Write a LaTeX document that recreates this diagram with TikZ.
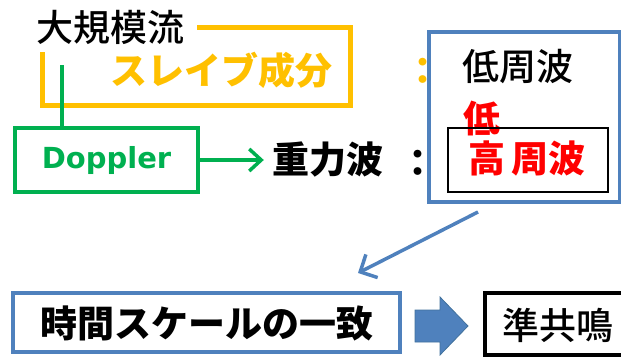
\documentclass[tikz,border=0pt]{standalone}
\usepackage{fontspec}
\setmainfont{Noto Sans CJK JP}
\newfontfamily\jpmed{Noto Sans CJK JP}[UprightFont={* Medium}]
\newfontfamily\dejavu{DejaVu Sans}
\usetikzlibrary{arrows.meta}
\definecolor{orng}{HTML}{FFC000}
\definecolor{grn}{HTML}{00B050}
\definecolor{blu}{HTML}{4F81BD}
\definecolor{bludark}{HTML}{41719C}
\definecolor{rd}{HTML}{FF0000}
\begin{document}
\begin{tikzpicture}[x=1pt,y=-1pt,
  jp/.style={inner sep=0pt, font=\fontsize{37}{40}\selectfont\bfseries},
  jpm/.style={inner sep=0pt, font=\jpmed\fontsize{37}{40}\selectfont},
  boxed/.style={draw, rectangle, inner sep=0pt},
  garrow/.style={grn, line width=3.5pt, -{Straight Barb[length=12pt,width=22pt]}},
  barrow/.style={blu, line width=3.5pt, -{Straight Barb[length=13pt,width=26pt]}},
  blockarrow/.style={fill=blu, draw=bludark, line width=0.8pt}
]
\useasboundingbox (0,0) rectangle (621,359);
% orange bracket around slave component
\draw[orng, line width=5pt] (197,27) -| (350,105) -| (42,52);
\node[jpm] (large) at (110,27) {大規模流};
\node[jp, text=orng] (slave) at (221,70) {スレイブ成分};
\node[jp, text=orng] (ocolon) at (423,71) {：};
% green Doppler
\node[boxed, draw=grn, line width=3.5pt, minimum width=183pt, minimum height=64pt] (dop) at (106.5,160) {};
\node[inner sep=0pt, text=grn, font=\dejavu\fontsize{29}{31}\selectfont\bfseries] (doptext) at (dop.center) {Doppler};
\coordinate (gtop) at (62,65);
\draw[grn, line width=3.5pt] (gtop) -- (gtop |- dop.north);
\node[jp] (grav) at (327.5,160) {重力波};
\node[jp] (bcolon) at (418,163) {：};
\draw[garrow, shorten >=8pt] (dop.east) -- (grav.west);
% blue box
\node[boxed, draw=blu, line width=4.5pt, minimum width=191pt, minimum height=170pt] (bbox) at (524.5,117) {};
\node[jpm] (low) at (518,67) {低周波};
\node[jp, text=rd] (lowred) at (482,118) {低};
\node[boxed, draw=black, line width=2.5pt, minimum width=160pt, minimum height=64pt] (kbox) at (528,160) {};
\node[jp, text=rd] (high) at (527,158) {高\,周波};
% blue arrow
\coordinate (bstart) at (478,212);
\coordinate (bend) at (358,273);
\draw[barrow] (bstart) -- (bend);
% bottom row
\node[boxed, draw=blu, line width=4.5pt, minimum width=387pt, minimum height=59pt] (tsb) at (206.5,322.5) {};
\node[jp] (tsbtext) at (207,323) {時間スケールの一致};
\draw[blockarrow] (415,310) -- (440,310) -- (440,297) -- (468,326) -- (440,355) -- (440,342) -- (415,342) -- cycle;
\node[boxed, draw=black, line width=4.5pt, minimum width=138pt, minimum height=62pt] (res) at (554,324) {};
\node[jpm] (restext) at (558,325) {準共鳴};
\end{tikzpicture}
\end{document}
